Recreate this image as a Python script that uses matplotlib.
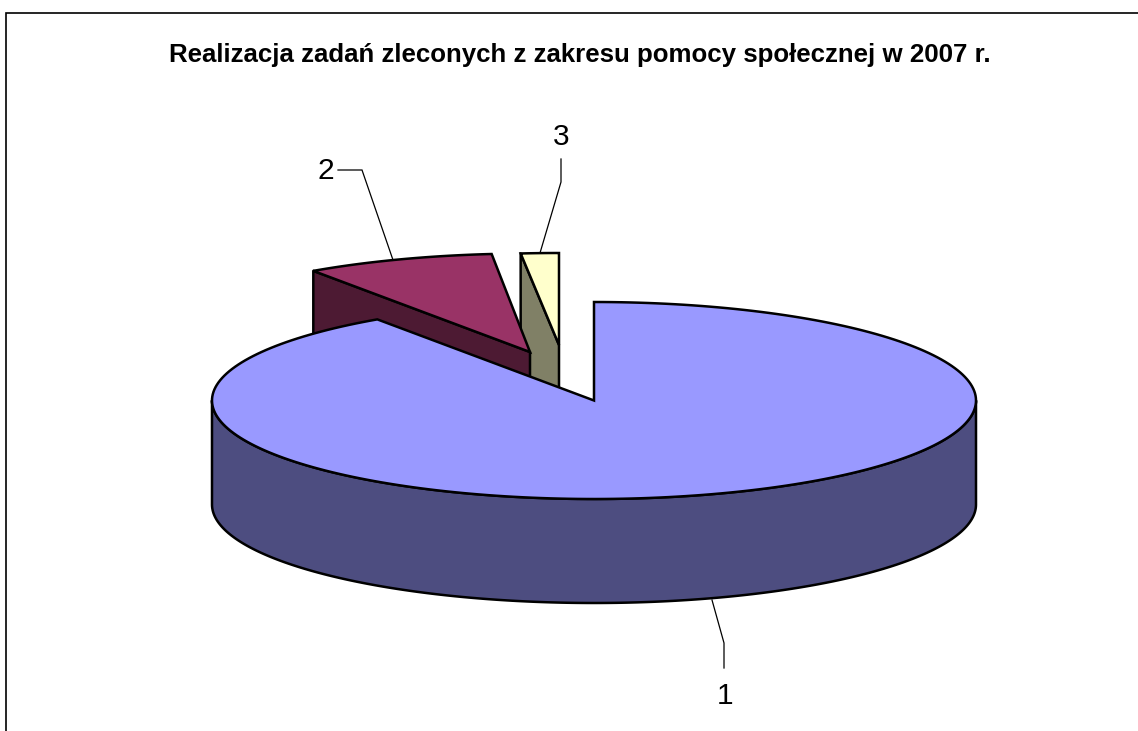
import numpy as np
import matplotlib
matplotlib.use("Agg")
import matplotlib.pyplot as plt
from matplotlib.patches import Polygon

title = "Realizacja zadań zleconych z zakresu pomocy społecznej w 2007 r."
categories = ["1", "2", "3"]
values = [90.4, 8.0, 1.6]

W, H = 1138, 731
fig = plt.figure(figsize=(W / 100, H / 100), dpi=100)
ax = fig.add_axes([0, 0, 1, 1])
ax.set_xlim(0, W)
ax.set_ylim(H, 0)
ax.axis("off")

CX, CY, RX, RY, DEPTH = 594, 400.5, 382, 98.5, 104
LW = 1.8
TOP = ["#9999FF", "#993366", "#FFFFCC"]
SIDE = ["#4D4D80", "#4D1A33", "#808066"]
# explosion offset of each slice's tip and vertical radius of its top face
OFFSET = [(0, 0), (-64, -48.5), (-35, -55.5)]
SLICE_RY = [RY, RY, 92]
Z = [30, 20, 10]

fracs = np.array(values) / np.sum(values)
edges = np.concatenate([[0], np.cumsum(fracs) * 2 * np.pi])


def arc(a0, a1, cx, cy, ry):
    t = np.linspace(a0, a1, 240)
    return np.column_stack([cx + RX * np.sin(t), cy - ry * np.cos(t)])


for i in range(len(values)):
    a0, a1 = edges[i], edges[i + 1]
    cx, cy = CX + OFFSET[i][0], CY + OFFSET[i][1]
    ry = SLICE_RY[i]
    z = Z[i]
    tip = np.array([[cx, cy]])
    if i == 0:
        # outer wall: visible front half of the rim
        rim = arc(np.pi / 2, 3 * np.pi / 2, cx, cy, ry)
        wall = np.vstack([rim, (rim + [0, DEPTH])[::-1]])
        ax.add_patch(Polygon(wall, closed=True, fc=SIDE[i], ec="black", lw=LW,
                             joinstyle="round", zorder=z))
    else:
        # front-facing cut face, running from the rim to the tip
        p = arc(a0, a0, cx, cy, ry)[0]
        face = np.array([p, [cx, cy], [cx, cy + DEPTH], p + [0, DEPTH]])
        ax.add_patch(Polygon(face, closed=True, fc=SIDE[i], ec="black", lw=LW,
                             joinstyle="round", zorder=z))
    top = np.vstack([tip, arc(a0, a1, cx, cy, ry)])
    ax.add_patch(Polygon(top, closed=True, fc=TOP[i], ec="black", lw=LW,
                         joinstyle="miter", zorder=z + 1))

# leader lines and category labels
leaders = {
    "1": ([712, 724, 724], [600, 643, 668]),
    "2": ([338, 362, 393], [170, 170, 260]),
    "3": ([561, 561, 540], [159, 182, 253]),
}
label_pos = {"1": (725, 696), "2": (326, 171), "3": (561, 137)}
for c in categories:
    xs, ys = leaders[c]
    ax.plot(xs, ys, color="black", lw=0.9, zorder=40, solid_joinstyle="miter")
    ax.text(*label_pos[c], c, ha="center", va="center",
            family="Liberation Sans", fontsize=21.5, color="black", zorder=41)

ax.text(579.5, 55, title, ha="center", va="center", family="Liberation Sans",
        fontweight="bold", fontsize=18.65, color="black", zorder=41)

# chart frame: only the top and left edges fall inside the picture
ax.plot([6.5, 6.5, 1138], [731, 12.5, 12.5], color="black", lw=1.2, zorder=50,
        solid_joinstyle="miter")

fig.savefig("out.png", dpi=100, facecolor="white")
